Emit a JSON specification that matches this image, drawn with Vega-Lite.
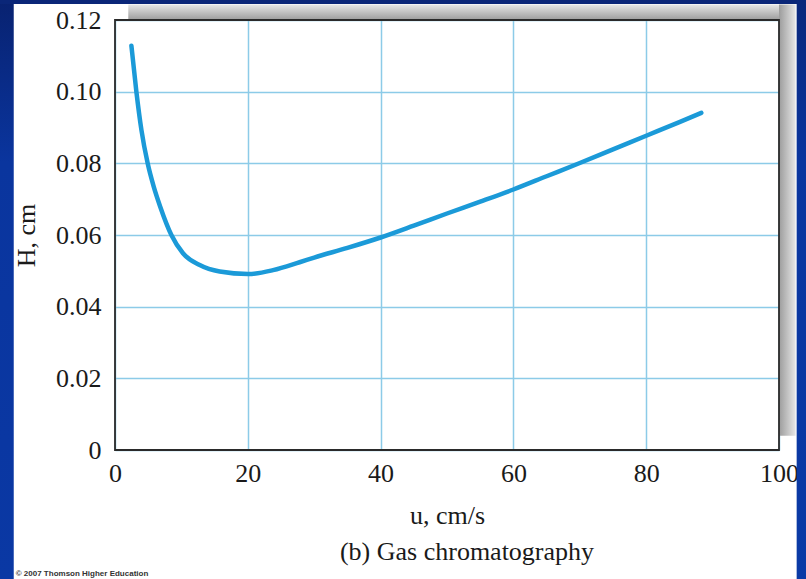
{
  "$schema": "https://vega.github.io/schema/vega-lite/v6.json",
  "width": 664,
  "height": 430,
  "autosize": {"type": "none"},
  "padding": {"left": 115, "top": 20, "right": 27, "bottom": 129},
  "background": "#ffffff",
  "title": {
    "text": "(b) Gas chromatography",
    "orient": "bottom",
    "anchor": "middle",
    "font": "Liberation Serif",
    "fontSize": 26,
    "fontWeight": "normal",
    "color": "#1a1a1a",
    "offset": -40,
    "dx": 20
  },
  "config": {
    "view": {"stroke": null},
    "axis": {
      "domain": false,
      "ticks": false,
      "grid": true,
      "gridColor": "#8ccbe8",
      "gridWidth": 1.5,
      "labelFont": "Liberation Serif",
      "labelFontSize": 26,
      "labelColor": "#1a1a1a",
      "titleFont": "Liberation Serif",
      "titleFontSize": 26,
      "titleFontWeight": "normal",
      "titleColor": "#1a1a1a"
    }
  },
  "datasets": {
    "curve": [
      {"u": 2.47, "H": 0.1128},
      {"u": 3.22, "H": 0.1000},
      {"u": 3.98, "H": 0.0893},
      {"u": 4.92, "H": 0.0800},
      {"u": 5.83, "H": 0.0735},
      {"u": 6.81, "H": 0.0679},
      {"u": 8.49, "H": 0.0600},
      {"u": 10.24, "H": 0.0549},
      {"u": 12.76, "H": 0.0516},
      {"u": 15.77, "H": 0.0498},
      {"u": 20.03, "H": 0.0491},
      {"u": 23.8, "H": 0.0502},
      {"u": 27.8, "H": 0.0524},
      {"u": 30, "H": 0.0537},
      {"u": 35, "H": 0.0564},
      {"u": 40, "H": 0.0593},
      {"u": 45, "H": 0.0626},
      {"u": 50, "H": 0.0660},
      {"u": 55, "H": 0.0693},
      {"u": 60, "H": 0.0727},
      {"u": 65, "H": 0.0764},
      {"u": 70, "H": 0.0801},
      {"u": 75, "H": 0.0839},
      {"u": 80, "H": 0.0877},
      {"u": 85, "H": 0.0915},
      {"u": 88.3, "H": 0.0941}
    ],
    "note": [{"text": "© 2007 Thomson Higher Education"}]
  },
  "layer": [
    {
      "data": {"values": [{}]},
      "mark": {"type": "rect", "color": {"gradient": "linear", "x1": 0, "y1": 0, "x2": 0, "y2": 1, "stops": [{"offset": 0, "color": "#e6e6e6"}, {"offset": 1, "color": "#9c9c9c"}]}},
      "encoding": {
        "x": {"datum": 2, "type": "quantitative"},
        "x2": {"datum": 100},
        "y": {"datum": 0.12, "type": "quantitative"},
        "y2": {"datum": 0.1243}
      }
    },
    {
      "data": {"values": [{}]},
      "mark": {"type": "rect", "color": {"gradient": "linear", "x1": 0, "y1": 0, "x2": 1, "y2": 0, "stops": [{"offset": 0, "color": "#9c9c9c"}, {"offset": 1, "color": "#e6e6e6"}]}},
      "encoding": {
        "x": {"datum": 100, "type": "quantitative"},
        "x2": {"datum": 102.5},
        "y": {"datum": 0.004, "type": "quantitative"},
        "y2": {"datum": 0.1243}
      }
    },
    {
      "data": {"values": [{}]},
      "mark": {"type": "rect", "color": {"gradient": "linear", "x1": 0, "y1": 0, "x2": 0, "y2": 1, "stops": [{"offset": 0, "color": "#08206c"}, {"offset": 0.3, "color": "#0a359e"}, {"offset": 1, "color": "#0a38a4"}]}},
      "encoding": {
        "x": {"datum": -20, "type": "quantitative"},
        "x2": {"datum": -15.25},
        "y": {"datum": -0.036, "type": "quantitative"},
        "y2": {"datum": 0.13}
      }
    },
    {
      "data": {"values": [{}]},
      "mark": {"type": "rect", "color": "#0a2678"},
      "encoding": {
        "x": {"datum": -20, "type": "quantitative"},
        "x2": {"datum": 106},
        "y": {"datum": 0.1245, "type": "quantitative"},
        "y2": {"datum": 0.13}
      }
    },
    {
      "data": {"values": [{}]},
      "mark": {"type": "rect", "color": {"gradient": "linear", "x1": 0, "y1": 0, "x2": 0, "y2": 1, "stops": [{"offset": 0, "color": "#0a2678"}, {"offset": 0.3, "color": "#0a359e"}, {"offset": 1, "color": "#0a3aa6"}]}},
      "encoding": {
        "x": {"datum": 102.66, "type": "quantitative"},
        "x2": {"datum": 106},
        "y": {"datum": -0.036, "type": "quantitative"},
        "y2": {"datum": 0.13}
      }
    },
    {
      "data": {"values": [{}]},
      "mark": {"type": "rect", "filled": false, "stroke": "#2a2a2a", "strokeWidth": 1.8},
      "encoding": {
        "x": {"datum": 0, "type": "quantitative"},
        "x2": {"datum": 100},
        "y": {"datum": 0, "type": "quantitative"},
        "y2": {"datum": 0.12}
      }
    },
    {
      "data": {"name": "note"},
      "mark": {"type": "text", "align": "left", "baseline": "alphabetic", "font": "Liberation Sans", "fontSize": 8, "fontWeight": "bold", "color": "#333333"},
      "encoding": {
        "x": {"datum": -14.95, "type": "quantitative"},
        "y": {"datum": -0.0352, "type": "quantitative"},
        "text": {"field": "text"}
      }
    },
    {
      "data": {"name": "curve"},
      "mark": {"type": "line", "color": "#1b9ad8", "strokeWidth": 4.5, "strokeCap": "round", "interpolate": "monotone"},
      "encoding": {
        "x": {
          "field": "u", "type": "quantitative",
          "scale": {"domain": [0, 100], "nice": false},
          "title": "u, cm/s",
          "axis": {"values": [0, 20, 40, 60, 80, 100], "labelPadding": 10, "titlePadding": 16, "labelFlush": false}
        },
        "y": {
          "field": "H", "type": "quantitative",
          "scale": {"domain": [0, 0.12], "nice": false},
          "title": "H, cm",
          "axis": {
            "values": [0, 0.02, 0.04, 0.06, 0.08, 0.1, 0.12],
            "labelExpr": "datum.value == 0 ? '0' : format(datum.value, '.2f')",
            "labelPadding": 14, "titlePadding": 16, "labelFlush": false
          }
        }
      }
    }
  ]
}
